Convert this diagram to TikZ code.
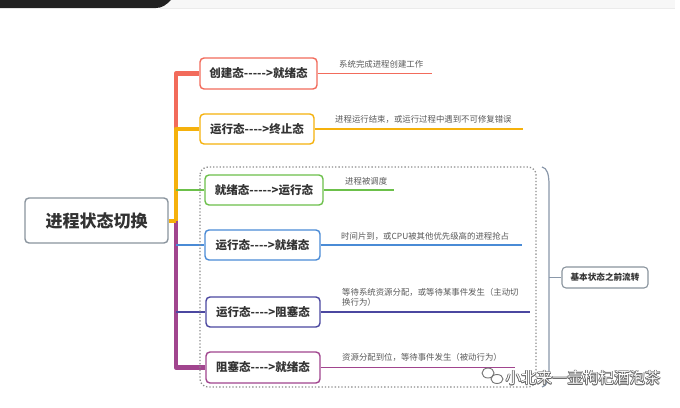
\documentclass[tikz,border=0pt]{standalone}
\usepackage{fontspec}
\setmainfont{Noto Sans CJK SC}
\newcommand{\hyphs}[1]{\foreach \k in {1,...,#1}{-{}}}
\begin{document}
\begin{tikzpicture}[x=1pt,y=-1pt,
  box/.style={draw, rounded corners=4pt, line width=1.4pt, fill=white, inner sep=0pt,
    font=\bfseries\fontsize{11.5}{13}\selectfont, text=black!80},
  lab/.style={anchor=south west, inner sep=0pt, text=black!65, font=\fontsize{8.4}{10.5}\selectfont, align=left},
  trunk/.style={line width=4.5pt, line join=round},
  thin branch/.style={line width=1.3pt}]
\definecolor{cred}{HTML}{F26B5B}
\definecolor{corange}{HTML}{F5B10C}
\definecolor{cgreen}{HTML}{6CC04A}
\definecolor{cblue}{HTML}{4A8BD6}
\definecolor{cindigo}{HTML}{4B47A0}
\definecolor{cmag}{HTML}{A1458E}
\definecolor{cgray}{HTML}{8A949E}
\definecolor{cbrace}{HTML}{8A98AA}
\useasboundingbox (0,0) rectangle (680,407);
\fill[white] (0,0) rectangle (680,407);
% top bar
\fill[black!3] (0,0) rectangle (675,8);
\draw[black!8, line width=0.6pt] (160,8) -- (675,8);
\fill[black!87] (0,0) -- (171,0) .. controls (166,5) and (162,8) .. (156,8) -- (0,8) -- cycle;

% nodes
\node[box, draw=cgray, minimum width=143pt, minimum height=45pt, font=\bfseries\fontsize{17}{19}\selectfont] (root) at (96.5,220.5) {进程状态切换};
\node[box, draw=cred, minimum width=117pt, minimum height=31pt] (b1) at (258.5,73.5) {创建态-{}-{}-{}-{}->就绪态};
\node[box, draw=corange, minimum width=114pt, minimum height=30pt] (b2) at (257,129) {运行态-{}-{}-{}->终止态};
\node[box, draw=cgreen, minimum width=118pt, minimum height=30pt] (b3) at (264,190) {就绪态-{}-{}-{}-{}->运行态};
\node[box, draw=cblue, minimum width=115pt, minimum height=30pt] (b4) at (262.5,245) {运行态-{}-{}-{}->就绪态};
\node[box, draw=cindigo, minimum width=114pt, minimum height=30pt] (b5) at (263,312) {运行态-{}-{}-{}->阻塞态};
\node[box, draw=cmag, minimum width=114pt, minimum height=31pt] (b6) at (263,367.5) {阻塞态-{}-{}-{}->就绪态};

% trunk
\coordinate (j) at (176,220.5);
\draw[cred, trunk] (j) -- (176,73.5) -- (b1.west);
\draw[corange, trunk] (j) -- (176,129) -- (b2.west);
\draw[cmag, trunk] (j) -- (176,367.5) -- (b6.west);
\draw[corange, line width=4pt] (root.east) -- (j);
\draw[cgreen, thin branch] (176,190) -- (b3.west);
\draw[cblue, thin branch] (176,245) -- (b4.west);
\draw[cindigo, thin branch] (176,312) -- (b5.west);

% right-hand lines
\coordinate (e1) at (432,73.5);
\coordinate (e2) at (523,129);
\coordinate (e3) at (394,190);
\coordinate (e4) at (522,245);
\coordinate (e5) at (530,312);
\coordinate (e6) at (515,367.5);
\draw[cred, line width=1.6pt] (b1.east) -- (e1);
\draw[corange, line width=1.6pt] (b2.east) -- (e2);
\draw[cgreen, line width=1.6pt] (b3.east) -- (e3);
\draw[cblue, line width=1.6pt] (b4.east) -- (e4);
\draw[cindigo, line width=1.6pt] (b5.east) -- (e5);
\draw[cmag, line width=1.6pt] (b6.east) -- (e6);

\node[lab] (l1) at (339,68) {系统完成进程创建工作};
\node[lab] (l2) at (335,124) {进程运行结束，或运行过程中遇到不可修复错误};
\node[lab] (l3) at (345,185) {进程被调度};
\node[lab] (l4) at (341,241) {时间片到，或CPU被其他优先级高的进程抢占};
\node[lab, text width=190pt] (l5) at (342,307) {等待系统资源分配，或等待某事件发生（主动切\\换行为）};
\node[lab] (l6) at (342,362) {资源分配到位，等待事件发生（被动行为）};

% dotted boundary
\draw[black!45, dotted, line width=1.3pt, rounded corners=8pt] (200,167) rectangle (536,387);

% summary brace and node
\node[box, draw=cgray, line width=1.1pt, minimum width=86pt, minimum height=21pt, font=\bfseries\fontsize{8.6}{10}\selectfont] (s) at (605,277.5) {基本状态之前流转};
\coordinate (bt) at (542,167);
\coordinate (bb) at (542,387);
\draw[cbrace, line width=1.2pt] (bt) .. controls (547,168) and (549,174) .. (549,185) -- (549,369) .. controls (549,380) and (547,386) .. (bb);
\draw[cbrace, line width=1.2pt] (549,277.5) -- (s.west);

% watermark
\begin{scope}[black!55, line width=0.9pt]
\draw (488,373) ellipse (6pt and 5pt);
\draw (497,379) ellipse (6pt and 4.5pt);
\end{scope}
\foreach \dx/\dy in {-0.7/0,0.7/0,0/-0.7,0/0.7,-0.5/-0.5,0.5/0.5,-0.5/0.5,0.5/-0.5}
  \node[inner sep=0pt, text=black!60, font=\fontsize{15.5}{17}\selectfont] at (583+\dx,378+\dy) {小北来一壶枸杞酒泡茶};
\node[inner sep=0pt, text=white, font=\fontsize{15.5}{17}\selectfont] (wm) at (583,378) {小北来一壶枸杞酒泡茶};
\end{tikzpicture}
\end{document}
